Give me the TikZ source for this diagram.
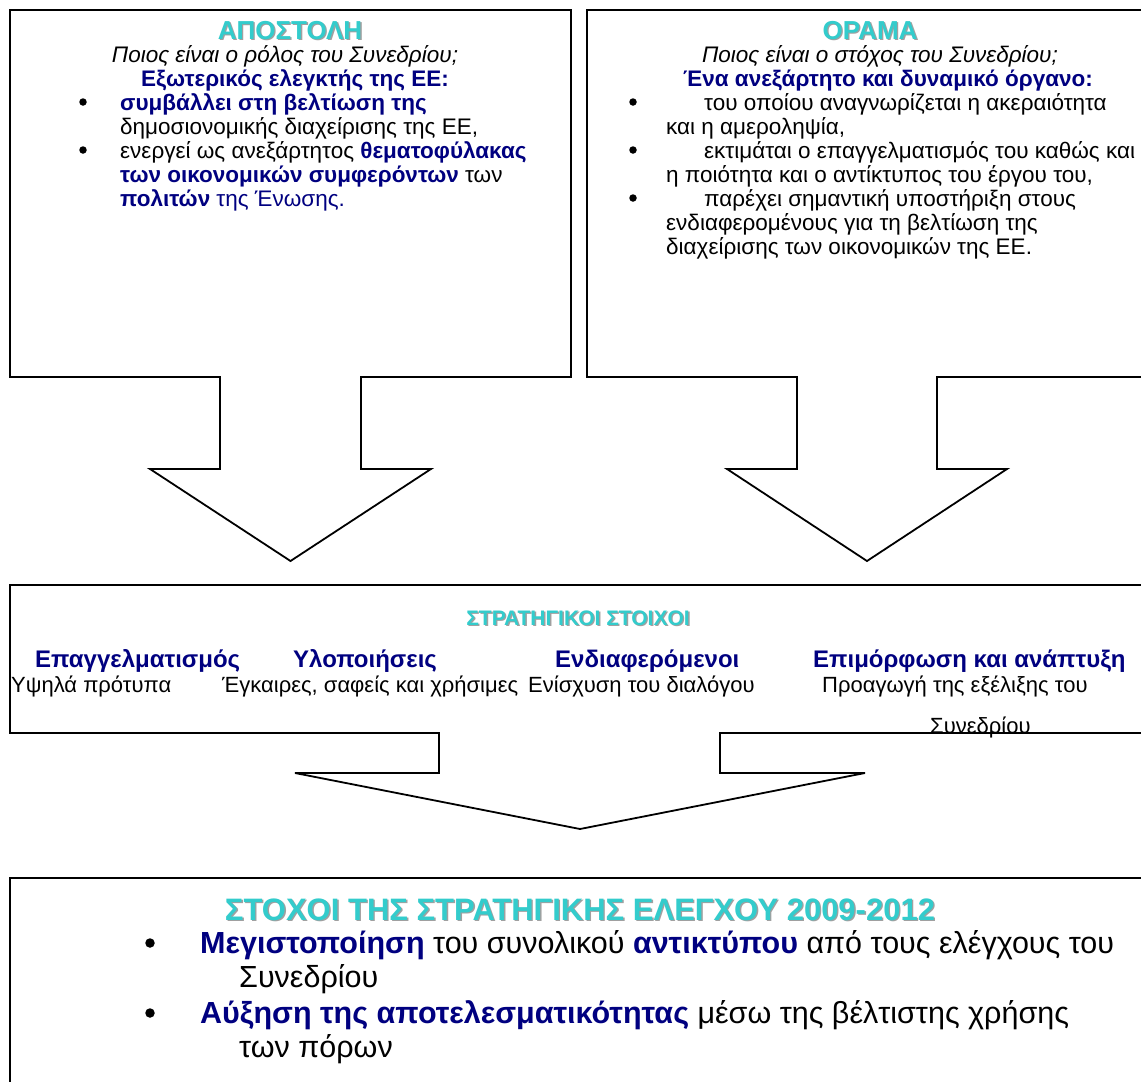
\documentclass[tikz,border=0pt]{standalone}
\usepackage{fontspec}
\setmainfont{Liberation Sans}
\definecolor{tealT}{RGB}{51,204,204}
\definecolor{navyT}{RGB}{0,0,128}
\definecolor{shadowT}{RGB}{160,160,160}
\newcommand\nb[1]{{\bfseries\color{navyT}#1}}
\newcommand\ShTitle[5]{%
  \node[anchor=base,inner sep=0pt,text=shadowT,font=\fontsize{#4}{#4}\selectfont\bfseries,xshift=1.4pt,yshift=-1.4pt] at (#2,#3) {#5};
  \node[anchor=base,inner sep=0pt,text=tealT,font=\fontsize{#4}{#4}\selectfont\bfseries] (#1) at (#2,#3) {#5};}
\begin{document}
\begin{tikzpicture}[x=1pt,y=-1pt,
  outline/.style={draw=black,line width=1.8pt,line join=miter},
  body/.style={anchor=base west,inner sep=0pt,font=\fontsize{22.5}{26}\selectfont},
  cbody/.style={anchor=base,inner sep=0pt,font=\fontsize{22.5}{26}\selectfont},
  dot/.style={circle,fill=black,inner sep=0pt,minimum size=7.5pt},
  bigdot/.style={circle,fill=black,inner sep=0pt,minimum size=9.5pt},
  midhead/.style={anchor=base west,inner sep=0pt,font=\fontsize{24}{27}\selectfont\bfseries,text=navyT},
  midsub/.style={anchor=base west,inner sep=0pt,font=\fontsize{22}{25}\selectfont},
  big/.style={anchor=base west,inner sep=0pt,font=\fontsize{30.5}{34}\selectfont}]
\useasboundingbox[fill=white] (0,0) rectangle (1141,1082);
\begin{scope}
\clip (0,0) rectangle (1141,1082);
% outlines
\draw[outline] (10,10) -- (571,10) -- (571,377) -- (361,377) -- (361,469) -- (431,469)
  -- (290.5,561) -- (150,469) -- (220,469) -- (220,377) -- (10,377) -- cycle;
\draw[outline] (587,10) -- (1148,10) -- (1148,377) -- (937,377) -- (937,469) -- (1007,469)
  -- (867,561) -- (727,469) -- (797,469) -- (797,377) -- (587,377) -- cycle;
\draw[outline] (10,585) -- (1149,585) -- (1149,733) -- (720,733) -- (720,773) -- (865,773)
  -- (580,829) -- (295,773) -- (439,773) -- (439,733) -- (10,733) -- cycle;
\draw[outline] (10,878) -- (1149,878) -- (1149,1095) -- (10,1095) -- cycle;

% left box
\ShTitle{apT}{290}{39}{26}{ΑΠΟΣΤΟΛΗ}
\node[cbody,font=\fontsize{22.5}{26}\selectfont\itshape] (apQ) at (285,62) {Ποιος είναι ο ρόλος του Συνεδρίου;};
\node[cbody,font=\fontsize{22.5}{26}\selectfont\bfseries,text=navyT] (apH) at (295,86) {Εξωτερικός ελεγκτής της ΕΕ:};
\node[dot] (apB1) at (83,102) {};
\node[body] (apL1) at (120,110) {\nb{συμβάλλει στη βελτίωση της}};
\node[body] (apL2) at (120,134) {δημοσιονομικής διαχείρισης της ΕΕ,};
\node[dot] (apB2) at (83,150) {};
\node[body] (apL3) at (120,158) {ενεργεί ως ανεξάρτητος \nb{θεματοφύλακας}};
\node[body] (apL4) at (120,182) {\nb{των οικονομικών συμφερόντων} των};
\node[body] (apL5) at (120,206) {\nb{πολιτών} {\color{navyT}της Ένωσης.}};

% right box
\ShTitle{orT}{870}{39}{26}{ΟΡΑΜΑ}
\node[cbody,font=\fontsize{22.5}{26}\selectfont\itshape] (orQ) at (880,62) {Ποιος είναι ο στόχος του Συνεδρίου;};
\node[cbody,font=\fontsize{22.5}{26}\selectfont\bfseries,text=navyT] (orH) at (888,86) {Ένα ανεξάρτητο και δυναμικό όργανο:};
\node[dot] (orB1) at (633,102) {};
\node[body] (orL1) at (704,110) {του οποίου αναγνωρίζεται η ακεραιότητα};
\node[body] (orL2) at (666,134) {και η αμεροληψία,};
\node[dot] (orB2) at (633,150) {};
\node[body] (orL3) at (704,158) {εκτιμάται ο επαγγελματισμός του καθώς και};
\node[body] (orL4) at (666,182) {η ποιότητα και ο αντίκτυπος του έργου του,};
\node[dot] (orB3) at (633,198) {};
\node[body] (orL5) at (704,206) {παρέχει σημαντική υποστήριξη στους};
\node[body] (orL6) at (666,230) {ενδιαφερομένους για τη βελτίωση της};
\node[body] (orL7) at (666,254) {διαχείρισης των οικονομικών της ΕΕ.};

% middle box
\ShTitle{stT}{578}{625}{21}{ΣΤΡΑΤΗΓΙΚΟΙ ΣΤΟΙΧΟΙ}
\node[midhead] (stH1) at (35,667) {Επαγγελματισμός};
\node[midhead] (stH2) at (293,667) {Υλοποιήσεις};
\node[midhead] (stH3) at (555,667) {Ενδιαφερόμενοι};
\node[midhead] (stH4) at (813,667) {Επιμόρφωση και ανάπτυξη};
\node[midsub] (stS1) at (11,692) {Υψηλά πρότυπα};
\node[midsub] (stS2) at (222,692) {Έγκαιρες, σαφείς και χρήσιμες};
\node[midsub] (stS3) at (528,692) {Ενίσχυση του διαλόγου};
\node[midsub] (stS4) at (822,692) {Προαγωγή της εξέλιξης του};
\node[midsub] (stS5) at (930,733) {Συνεδρίου};

% bottom box
\ShTitle{goT}{580}{920}{31}{ΣΤΟΧΟΙ ΤΗΣ ΣΤΡΑΤΗΓΙΚΗΣ ΕΛΕΓΧΟΥ 2009-2012}
\node[bigdot] (goB1) at (150,943) {};
\node[big] (goL1) at (200,953) {\nb{Μεγιστοποίηση} του συνολικού \nb{αντικτύπου} από τους ελέγχους του};
\node[big] (goL2) at (239,987) {Συνεδρίου};
\node[bigdot] (goB2) at (150,1013) {};
\node[big] (goL3) at (200,1023) {\nb{Αύξηση της αποτελεσματικότητας} μέσω της βέλτιστης χρήσης};
\node[big] (goL4) at (239,1057) {των πόρων};
\end{scope}
\end{tikzpicture}
\end{document}
